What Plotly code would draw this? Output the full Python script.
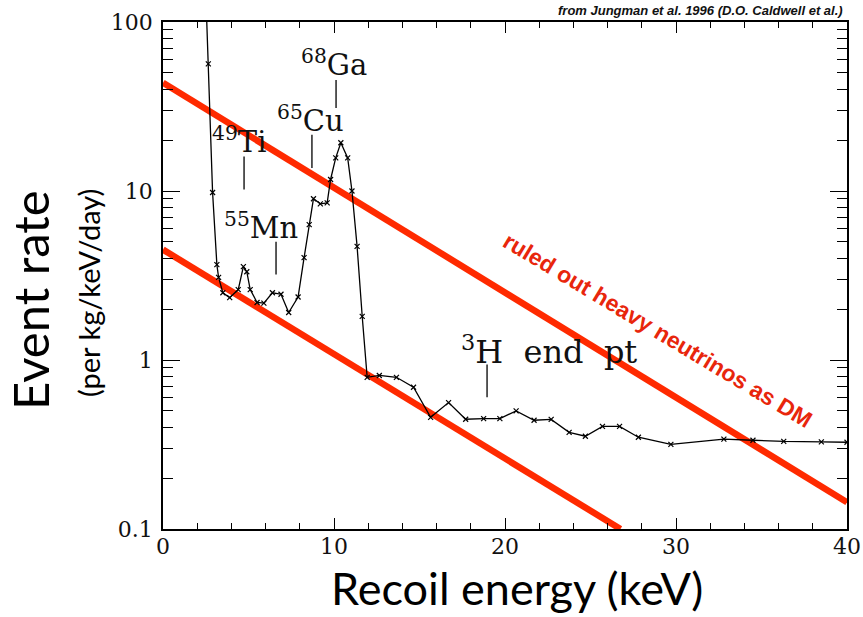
import numpy as np
import plotly.graph_objects as go

# ---------------- data ----------------
energy_kev = [2.5, 2.65, 2.9, 3.15, 3.25, 3.5, 3.9, 4.4, 4.7, 4.9, 5.1, 5.5, 5.9, 6.4, 6.9,
              7.35, 7.9, 8.25, 8.55, 8.8, 9.2, 9.6, 9.8, 10.1, 10.4, 10.8, 11.05, 11.35,
              11.65, 11.94, 12.65, 13.65, 14.65, 15.65, 16.7, 17.7, 18.75, 19.7, 20.65,
              21.7, 22.7, 23.75, 24.7, 25.7, 26.7, 27.8, 29.7, 32.8, 34.5, 36.3, 38.5, 40.0]
event_rate = [150, 56.5, 9.8, 3.67, 3.08, 2.5, 2.34, 2.61, 3.57, 3.33, 2.61, 2.19, 2.17, 2.5, 2.45,
              1.91, 2.36, 4.03, 6.32, 9.0, 8.4, 8.5, 11.7, 15.7, 19.3, 15.7, 10.0, 4.7,
              1.81, 0.79, 0.81, 0.79, 0.69, 0.458, 0.56, 0.446, 0.45, 0.45, 0.50,
              0.44, 0.445, 0.373, 0.354, 0.405, 0.405, 0.349, 0.317, 0.34, 0.335, 0.33, 0.328, 0.326]

# red exclusion lines (endpoints)
upper_line_x = [0.0, 40.0]
upper_line_y = [43.7, 0.144]
lower_line_x = [0.0, 26.75]
lower_line_y = [4.5, 0.1]

# isotope labels: text, label x, label y, font size, marker-line x, marker-line y range
label_texts = ["<sup>68</sup>Ga", "<sup>65</sup>Cu", "<sup>49</sup>Ti", "<sup>55</sup>Mn",
               "<sup>3</sup>H  end  pt"]
label_x = [10.0, 8.6, 4.45, 5.75, 22.6]
label_y = [57.0, 26.5, 20.0, 6.2, 1.15]
label_size = [29, 29, 29, 29, 32]
tickline_x = [10.12, 8.71, 4.74, 6.61, 18.95]
tickline_y0 = [45.4, 21.5, 16.0, 5.01, 0.942]
tickline_y1 = [31.0, 13.7, 10.2, 3.21, 0.601]

y_tickvals = [0.1, 1, 10, 100]
y_ticktext = ["0.1", "1", "10", "100"]
x_tickvals = [0, 10, 20, 30, 40]
x_ticktext = ["0", "10", "20", "30", "40"]

# ---------------- layout geometry ----------------
W, H = 863, 617
L, R, T, B = 163, 16, 22, 88
PW, PH = W - L - R, H - T - B


def px2paper(px, py):
    return (px - L) / PW, (H - B - py) / PH


RED = "#ff2a00"
SERIF = "DejaVu Serif"

fig = go.Figure()

# red lines
for xs, ys in [(upper_line_x, upper_line_y), (lower_line_x, lower_line_y)]:
    fig.add_trace(go.Scatter(x=xs, y=ys, mode="lines",
                             line=dict(color=RED, width=6.5),
                             hoverinfo="skip", showlegend=False))

# spectrum
fig.add_trace(go.Scatter(x=energy_kev, y=event_rate, mode="lines+markers",
                         line=dict(color="black", width=1.3),
                         marker=dict(symbol="x-thin", size=5,
                                     line=dict(color="black", width=1.2)),
                         showlegend=False))

# label tick lines
for tx, y0, y1 in zip(tickline_x, tickline_y0, tickline_y1):
    fig.add_trace(go.Scatter(x=[tx, tx], y=[y0, y1], mode="lines",
                             line=dict(color="black", width=1.3),
                             hoverinfo="skip", showlegend=False))

annotations = []
for t, lx, ly, ls in zip(label_texts, label_x, label_y, label_size):
    annotations.append(dict(x=lx, y=np.log10(ly), xref="x", yref="y", text=t,
                            xanchor="center", yanchor="middle",
                            showarrow=False, font=dict(family=SERIF, size=ls, color="#111")))

# red rotated text
annotations.append(dict(x=28.9, y=np.log10(1.5), xref="x", yref="y",
                        xanchor="center", yanchor="middle",
                        text="<b>ruled out heavy neutrinos as DM</b>", showarrow=False,
                        textangle=31,
                        font=dict(family="Liberation Sans", size=23, color="#e8260c")))

# source note
sx, sy = px2paper(845, 11)
annotations.append(dict(x=sx, y=sy, xref="paper", yref="paper", xanchor="right", yanchor="middle",
                        text="<b><i>from Jungman et al. 1996 (D.O. Caldwell et al.)</i></b>",
                        showarrow=False, font=dict(family="Liberation Sans", size=13, color="#111")))

# axis titles
ex, ey = px2paper(30, 300)
annotations.append(dict(x=ex, y=ey, xref="paper", yref="paper", text="Event rate",
                        xanchor="center", yanchor="middle",
                        textangle=-90, showarrow=False,
                        font=dict(family="Lato", size=49, color="black")))
px_, py_ = px2paper(88, 293)
annotations.append(dict(x=px_, y=py_, xref="paper", yref="paper", text="(per kg/keV/day)",
                        xanchor="center", yanchor="middle",
                        textangle=-90, showarrow=False,
                        font=dict(family="Lato", size=29, color="black")))
rx, ry = px2paper(517, 588)
annotations.append(dict(x=rx, y=ry, xref="paper", yref="paper", text="Recoil energy (keV)",
                        xanchor="center", yanchor="middle",
                        showarrow=False,
                        font=dict(family="Lato", size=45, color="black")))

minor_y = [m * 10.0 ** e for e in range(-1, 2) for m in range(2, 10)]

fig.update_layout(
    width=W, height=H,
    margin=dict(l=L, r=R, t=T, b=B),
    paper_bgcolor="white", plot_bgcolor="white",
    annotations=annotations,
    showlegend=False,
    xaxis=dict(range=[0, 40], showgrid=False, zeroline=False, automargin=False,
               showline=True, linecolor="black", linewidth=1.6, mirror="allticks",
               ticks="inside", ticklen=11, tickwidth=1.3, tickcolor="black",
               tickmode="array", tickvals=x_tickvals, ticktext=x_ticktext,
               ticklabelstandoff=-3,
               tickfont=dict(family=SERIF, size=22, color="#111"),
               minor=dict(ticks="inside", ticklen=6, tickwidth=1.2, tickcolor="black",
                          dtick=2, tick0=0, showgrid=False)),
    yaxis=dict(type="log", range=[-1, 2], showgrid=False, zeroline=False, automargin=False,
               showline=True, linecolor="black", linewidth=1.6, mirror="allticks",
               ticks="inside", ticklen=17, tickwidth=1.3, tickcolor="black",
               tickmode="array", tickvals=y_tickvals, ticktext=y_ticktext,
               ticklabelstandoff=4,
               tickfont=dict(family=SERIF, size=22, color="#111"),
               minor=dict(ticks="inside", ticklen=10, tickwidth=1.2, tickcolor="black",
                          tickmode="array", tickvals=minor_y, showgrid=False)),
)

fig.write_html("out.html", config={"displayModeBar": False},
               post_script="document.body.style.margin='0px';document.body.style.padding='0px';")
